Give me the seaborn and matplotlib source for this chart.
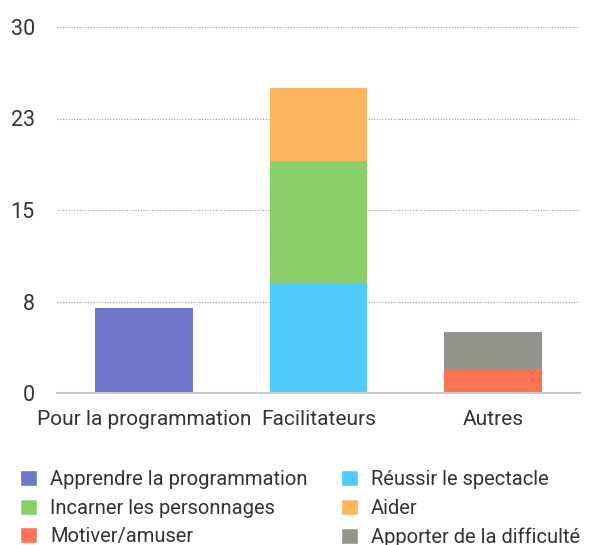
import numpy as np
import matplotlib
matplotlib.use('Agg')
import matplotlib.pyplot as plt
import seaborn as sns
from matplotlib.patches import Patch

categories = ['Pour la programmation', 'Facilitateurs', 'Autres']
series = ['Apprendre la programmation', 'Réussir le spectacle',
          'Incarner les personnages', 'Aider',
          'Motiver/amuser', 'Apporter de la difficulté']
apprendre = [7, 0, 0]
reussir = [0, 9, 0]
incarner = [0, 10, 0]
aider = [0, 6, 0]
motiver = [0, 0, 2]
apporter = [0, 0, 3]
y_ticks = [0, 7.5, 15, 22.5, 30]
y_labels = ['0', '8', '15', '23', '30']

colors = ['#6E76C9', '#4FCBFB', '#8BCF6A', '#FDB55E', '#FC7356', '#94948D']

sns.set_style('white')
plt.rcParams['font.family'] = ['Roboto', 'DejaVu Sans']

fig = plt.figure(figsize=(5.89, 5.45), dpi=100)
ax = fig.add_axes([57 / 589, 1 - 393 / 545, 523 / 589, 366 / 545])

stack_order = [(apprendre, 0), (reussir, 1), (incarner, 2), (aider, 3), (motiver, 4), (apporter, 5)]
bottom = np.zeros(len(categories))
for vals, i in stack_order:
    sns.barplot(x=categories, y=vals, bottom=bottom, color=colors[i], width=0.56,
                saturation=1, ax=ax, linewidth=0)
    bottom = bottom + np.array(vals)

ax.set_xlim(-0.5, 2.5)
ax.set_ylim(0, 30)
ax.set_yticks(y_ticks)
ax.set_yticklabels(y_labels)
for t in y_ticks[1:]:
    ax.axhline(t, color='#9a9a9a', linestyle=(0, (1, 1.5)), linewidth=0.8, zorder=0)
for s in ['top', 'right', 'left']:
    ax.spines[s].set_visible(False)
ax.spines['bottom'].set_color('#c8c8c8')
ax.spines['bottom'].set_linewidth(1.5)
ax.tick_params(axis='both', length=0, colors='#333333')
ax.tick_params(axis='x', labelsize=15, pad=12)
ax.tick_params(axis='y', labelsize=15.5, pad=16)

# legend filled row by row
order = [0, 2, 4, 1, 3, 5]
handles = [Patch(facecolor=colors[i], label=series[i]) for i in order]
fig.legend(handles=handles, loc='upper left', bbox_to_anchor=(20 / 589, 1 - 470 / 545), ncol=2,
           frameon=False, fontsize=14.5, handlelength=0.85, handleheight=0.85,
           handletextpad=0.65, labelspacing=0.48, columnspacing=1.65,
           borderpad=0, borderaxespad=0, labelcolor='#333333')

fig.savefig('out.png', dpi=100)
